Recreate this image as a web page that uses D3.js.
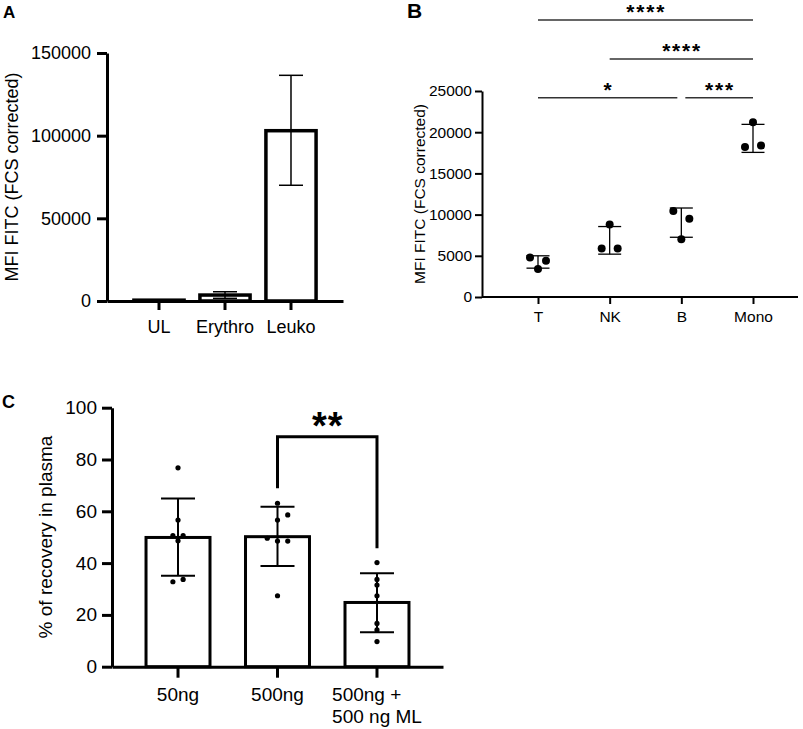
<!DOCTYPE html>
<html>
<head>
<meta charset="utf-8">
<script src="https://cdn.jsdelivr.net/npm/d3@7"></script>
<style>
  body { margin: 0; background: #fff; }
  svg { font-family: "Liberation Sans", Arial, sans-serif; }
</style>
</head>
<body>
<div id="chart"></div>
<script>
'use strict';

// Panel A: MFI by fraction
const aCats = ['UL', 'Erythro', 'Leuko'];
const aMeans = [500, 3600, 103000];
const aErrHi = [700, 5600, 136500];
const aErrLo = [300, 1600, 70000];
const aTicks = [0, 50000, 100000, 150000];

// Panel B: MFI by cell type (3 donors each)
const bCats = ['T', 'NK', 'B', 'Mono'];
const bPoints = [
    [4800, 3400, 4400],
    [5900, 8800, 5900],
    [10450, 7000, 9500],
    [18200, 21200, 18400]
];
const bErrHi = [5000, 8550, 10800, 20950];
const bErrLo = [3500, 5200, 7250, 17550];
const bTicks = [0, 5000, 10000, 15000, 20000, 25000];
// significance: [from, to, label]
const bSig = [
    ['T', 'Mono', '****'],
    ['NK', 'Mono', '****'],
    ['T', 'B', '*'],
    ['B', 'Mono', '***']
];

// Panel C: recovery in plasma
const cCats = ['50ng', '500ng', '500ng +\n500 ng ML'];
const cMeans = [49.9, 50.2, 24.8];
const cErrHi = [64.9, 61.8, 36.1];
const cErrLo = [35.1, 38.9, 13.3];
const cPoints = [
    [76.8, 56.6, 50.6, 50.6, 48.6, 32.8, 33.7],
    [63.1, 56.6, 58.6, 49.6, 48.5, 48.5, 27.4],
    [40.2, 33.7, 31.5, 27.4, 16.7, 14.2, 9.7]
];
// horizontal jitter of dots, in units of bar width
const cJitter = [
    [0, 0, -0.08, 0.08, 0, -0.08, 0.08],
    [0, 0, 0.16, -0.16, 0, 0.16, 0],
    [0, 0, 0, 0, 0, 0, 0]
];
const cTicks = [0, 20, 40, 60, 80, 100];

const svg = d3.select('#chart').append('svg').attr('width', 803).attr('height', 729);

const panelLabel = function(txt, x, y, size) {
    svg.append('text').attr('x', x).attr('y', y)
        .style('font-weight', 'bold').style('font-size', size + 'px').text(txt);
};

const yTitle = function(txt, x, y, size) {
    svg.append('text')
        .attr('transform', `translate(${x}, ${y}) rotate(-90)`)
        .attr('text-anchor', 'middle').attr('dy', '0.35em')
        .style('font-size', size + 'px').text(txt);
};

const styleAxis = function(g, width, size) {
    g.selectAll('path, line').attr('stroke', '#000').attr('stroke-width', width);
    g.selectAll('text').attr('fill', '#000').style('font-size', size + 'px');
    g.attr('font-family', null).attr('font-size', null);
};

/* -- Panel A ------------------------------------------------------------ */
(function() {
    const x = d3.scaleBand().domain(aCats).range([107, 343]).paddingInner(0.24).paddingOuter(0.408);
    const y = d3.scaleLinear().domain([0, 150000]).range([301, 53]);
    const bw = x.bandwidth();

    const g = svg.append('g');
    g.selectAll('.bar').data(aCats).enter().append('rect')
        .attr('x', d => x(d)).attr('width', bw)
        .attr('y', (d, i) => y(aMeans[i])).attr('height', (d, i) => y(0) - y(aMeans[i]))
        .attr('fill', '#fff').attr('stroke', '#000').attr('stroke-width', 3.5);

    const cap = 12;
    aCats.forEach(function(c, i) {
        const cx = x(c) + bw / 2;
        g.append('line').attr('x1', cx).attr('x2', cx).attr('y1', y(aErrHi[i])).attr('y2', y(aErrLo[i]))
            .attr('stroke', '#000').attr('stroke-width', 1.5);
        [aErrHi[i], aErrLo[i]].forEach(v => {
            g.append('line').attr('x1', cx - cap).attr('x2', cx + cap).attr('y1', y(v)).attr('y2', y(v))
                .attr('stroke', '#000').attr('stroke-width', 1.5);
        });
    });

    const xa = svg.append('g').attr('transform', 'translate(0,301)')
        .call(d3.axisBottom(x).tickSizeInner(9).tickSizeOuter(0).tickPadding(10));
    styleAxis(xa, 3, 18);
    const ya = svg.append('g').attr('transform', 'translate(107,0)')
        .call(d3.axisLeft(y).tickValues(aTicks).tickFormat(d3.format('d')).tickSizeInner(10).tickSizeOuter(0).tickPadding(6));
    styleAxis(ya, 3, 18);

    yTitle('MFI FITC (FCS corrected)', 12, 177, 18);
    panelLabel('A', 3, 18, 17);
})();

/* -- Panel B ------------------------------------------------------------ */
(function() {
    const x = d3.scalePoint().domain(bCats).range([538, 753]);
    const y = d3.scaleLinear().domain([0, 25000]).range([297, 91]);
    const jit = [-8, 0, 8];

    const g = svg.append('g');
    const cap = 11.5;
    bCats.forEach(function(c, i) {
        const cx = x(c);
        g.append('line').attr('x1', cx).attr('x2', cx).attr('y1', y(bErrHi[i])).attr('y2', y(bErrLo[i]))
            .attr('stroke', '#000').attr('stroke-width', 1.3);
        [bErrHi[i], bErrLo[i]].forEach(v => {
            g.append('line').attr('x1', cx - cap).attr('x2', cx + cap).attr('y1', y(v)).attr('y2', y(v))
                .attr('stroke', '#000').attr('stroke-width', 1.3);
        });
        g.selectAll('.pt' + i).data(bPoints[i]).enter().append('circle')
            .attr('cx', (d, k) => cx + jit[k])
            .attr('cy', d => y(d)).attr('r', 4).attr('fill', '#000');
    });

    const xa = svg.append('g').attr('transform', 'translate(0,297)')
        .call(d3.axisBottom(x).tickSizeInner(7).tickSizeOuter(0).tickPadding(7));
    xa.select('.domain').remove();
    xa.append('line').attr('x1', 482).attr('x2', 798);
    styleAxis(xa, 2, 15.5);
    const ya = svg.append('g').attr('transform', 'translate(482,0)')
        .call(d3.axisLeft(y).tickValues(bTicks).tickFormat(d3.format('d')).tickSizeInner(7).tickSizeOuter(0).tickPadding(3));
    styleAxis(ya, 2, 15.5);

    // significance bars
    const levels = [20, 59, 97.7, 97.7];
    bSig.forEach(function(s, i) {
        let x1 = x(s[0]), x2 = x(s[1]);
        if (i === 2) x2 -= 4;
        if (i === 3) x1 += 4;
        g.append('line').attr('x1', x1).attr('x2', x2).attr('y1', levels[i]).attr('y2', levels[i])
            .attr('stroke', '#333').attr('stroke-width', 1.6);
        g.append('text').attr('x', (x1 + x2) / 2 + 0.75).attr('y', levels[i] - 1)
            .attr('text-anchor', 'middle').style('font-weight', 'bold').style('font-size', '21px')
            .style('letter-spacing', '1.8px').text(s[2]);
    });

    yTitle('MFI FITC (FCS corrected)', 420, 194, 15.5);
    panelLabel('B', 407, 18, 21);
})();

/* -- Panel C ------------------------------------------------------------ */
(function() {
    const x = d3.scaleBand().domain(cCats).range([112, 443]).paddingInner(0.357).paddingOuter(0.342);
    const y = d3.scaleLinear().domain([0, 100]).range([666.7, 407.7]);
    const bw = x.bandwidth();

    const g = svg.append('g');
    g.selectAll('.bar').data(cCats).enter().append('rect')
        .attr('x', d => x(d)).attr('width', bw)
        .attr('y', (d, i) => y(cMeans[i])).attr('height', (d, i) => y(0) - y(cMeans[i]))
        .attr('fill', '#fff').attr('stroke', '#000').attr('stroke-width', 3);

    const cap = 17;
    cCats.forEach(function(c, i) {
        const cx = x(c) + bw / 2;
        g.append('line').attr('x1', cx).attr('x2', cx).attr('y1', y(cErrHi[i])).attr('y2', y(cErrLo[i]))
            .attr('stroke', '#000').attr('stroke-width', 2);
        [cErrHi[i], cErrLo[i]].forEach(v => {
            g.append('line').attr('x1', cx - cap).attr('x2', cx + cap).attr('y1', y(v)).attr('y2', y(v))
                .attr('stroke', '#000').attr('stroke-width', 2);
        });
        g.selectAll('.pt' + i).data(cPoints[i]).enter().append('circle')
            .attr('cx', (d, k) => cx + cJitter[i][k] * bw)
            .attr('cy', d => y(d)).attr('r', 2.6).attr('fill', '#000');
    });

    const xa = svg.append('g').attr('transform', 'translate(0,666.7)')
        .call(d3.axisBottom(x).tickSizeInner(11).tickSizeOuter(0).tickPadding(10).tickFormat(''));
    styleAxis(xa, 3, 19);
    // multi-line tick labels: block centred on tick, lines left aligned
    xa.selectAll('.tick').each(function(d) {
        const lines = d.split('\n');
        const t = d3.select(this).append('text').attr('fill', '#000').style('font-size', '19px')
            .attr('text-anchor', 'start').attr('y', 21);
        lines.forEach((l, k) => t.append('tspan').attr('x', 0).attr('dy', k === 0 ? '0.71em' : '1.14em').text(l));
        const w = t.node().getBBox().width;
        t.selectAll('tspan').attr('x', -w / 2);
    });

    const ya = svg.append('g').attr('transform', 'translate(112,0)')
        .call(d3.axisLeft(y).tickValues(cTicks).tickSizeInner(10).tickSizeOuter(0).tickPadding(5));
    styleAxis(ya, 3, 19);

    // significance bracket between 500ng and 500ng + ML
    const bx1 = x(cCats[1]) + bw / 2, bx2 = x(cCats[2]) + bw / 2;
    const by = 436.7;
    g.append('path')
        .attr('d', `M${bx1},488.3V${by}H${bx2}V548.3`)
        .attr('fill', 'none').attr('stroke', '#000').attr('stroke-width', 3);
    g.append('text').attr('x', (bx1 + bx2) / 2 + 0.5).attr('y', 439)
        .attr('text-anchor', 'middle').style('font-weight', 'bold').style('font-size', '38px')
        .style('letter-spacing', '1px').text('**');

    yTitle('% of recovery in plasma', 45, 537, 19);
    panelLabel('C', 2, 408, 18);
})();
</script>
</body>
</html>
